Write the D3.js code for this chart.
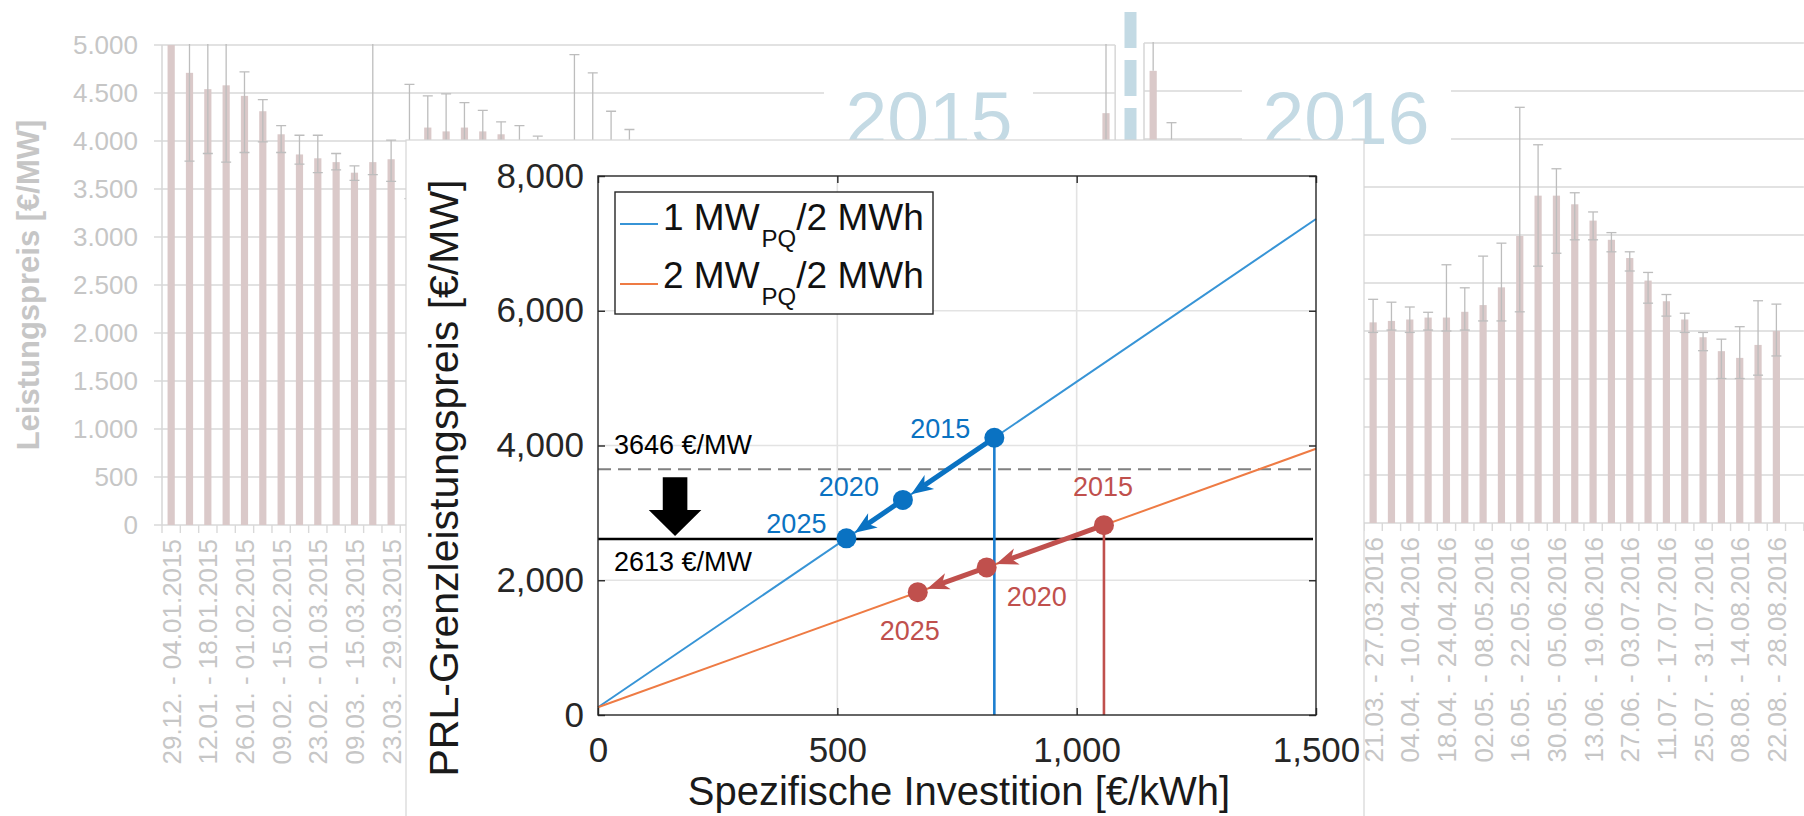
<!DOCTYPE html>
<html>
<head>
<meta charset="utf-8">
<script src="https://cdn.jsdelivr.net/npm/d3@7"></script>
<style>
  html, body { margin: 0; padding: 0; background: #fff; overflow: hidden; }
  svg { display: block; font-family: "Liberation Sans", Arial, Helvetica, sans-serif; }
</style>
</head>
<body>
<svg id="chart" width="1804" height="816"></svg>
<script>
// ---------- weekly PRL capacity prices (background charts) ----------
const weeks2015 = ["29.12. - 04.01.2015","05.01. - 11.01.2015","12.01. - 18.01.2015","19.01. - 25.01.2015","26.01. - 01.02.2015","02.02. - 08.02.2015","09.02. - 15.02.2015","16.02. - 22.02.2015","23.02. - 01.03.2015","02.03. - 08.03.2015","09.03. - 15.03.2015","16.03. - 22.03.2015","23.03. - 29.03.2015","30.03. - 05.04.2015","06.04. - 12.04.2015","13.04. - 19.04.2015","20.04. - 26.04.2015","27.04. - 03.05.2015","04.05. - 10.05.2015","11.05. - 17.05.2015","18.05. - 24.05.2015","25.05. - 31.05.2015","01.06. - 07.06.2015","08.06. - 14.06.2015","15.06. - 21.06.2015","22.06. - 28.06.2015","29.06. - 05.07.2015","06.07. - 12.07.2015","13.07. - 19.07.2015","20.07. - 26.07.2015","27.07. - 02.08.2015","03.08. - 09.08.2015","10.08. - 16.08.2015","17.08. - 23.08.2015","24.08. - 30.08.2015","31.08. - 06.09.2015","07.09. - 13.09.2015","14.09. - 20.09.2015","21.09. - 27.09.2015","28.09. - 04.10.2015","05.10. - 11.10.2015","12.10. - 18.10.2015","19.10. - 25.10.2015","26.10. - 01.11.2015","02.11. - 08.11.2015","09.11. - 15.11.2015","16.11. - 22.11.2015","23.11. - 29.11.2015","30.11. - 06.12.2015","07.12. - 13.12.2015","14.12. - 20.12.2015","21.12. - 27.12.2015"];
const price2015 = [5000,4710,4540,4580,4470,4310,4070,3860,3820,3780,3670,3780,3810,3700,4140,4100,4140,4100,4070,3950,3900,3750,3800,3850,3800,3700,3650,3600,3550,3500,3450,3500,3550,3500,3450,3400,3350,3300,3250,3300,3350,3400,3450,3500,3550,3600,3650,3700,3750,3800,3850,4290];
const low2015 = [null,3790,3870,3780,3880,3990,3880,3760,3670,3700,3590,3650,3580,3400,3800,3750,3850,3800,3800,3700,3700,3600,3200,3300,3500,3450,3450,3400,3350,3300,3250,3300,3350,3300,3250,3200,3150,3100,3050,3100,3150,3200,3250,3300,3350,3400,3450,3500,3550,3600,3650,3900];
const high2015 = [null,5400,5300,5300,4720,4430,4160,4060,4060,3870,3740,5400,4010,4590,4470,4490,4400,4320,4200,4160,4050,3950,4900,4710,4310,4120,3900,3850,3800,3750,3700,3750,3800,3750,3700,3650,3600,3550,3500,3550,3600,3650,3700,3750,3800,3850,3900,3950,3950,3950,3950,5400];

const weeks2016 = ["28.12. - 03.01.2016","04.01. - 10.01.2016","11.01. - 17.01.2016","18.01. - 24.01.2016","25.01. - 31.01.2016","01.02. - 07.02.2016","08.02. - 14.02.2016","15.02. - 21.02.2016","22.02. - 28.02.2016","29.02. - 06.03.2016","07.03. - 13.03.2016","14.03. - 20.03.2016","21.03. - 27.03.2016","28.03. - 03.04.2016","04.04. - 10.04.2016","11.04. - 17.04.2016","18.04. - 24.04.2016","25.04. - 01.05.2016","02.05. - 08.05.2016","09.05. - 15.05.2016","16.05. - 22.05.2016","23.05. - 29.05.2016","30.05. - 05.06.2016","06.06. - 12.06.2016","13.06. - 19.06.2016","20.06. - 26.06.2016","27.06. - 03.07.2016","04.07. - 10.07.2016","11.07. - 17.07.2016","18.07. - 24.07.2016","25.07. - 31.07.2016","01.08. - 07.08.2016","08.08. - 14.08.2016","15.08. - 21.08.2016","22.08. - 28.08.2016","29.08. - 04.09.2016"];
const price2016 = [4710,3700,3400,3100,2900,2700,2550,2400,2300,2250,2200,2150,2090,2105,2120,2140,2140,2200,2270,2455,2990,3410,3410,3320,3150,2950,2760,2525,2310,2120,1935,1790,1720,1855,2000];
const low2016 = [null,3300,3100,2850,2650,2450,2300,2150,2050,2000,1950,1900,1985,2010,1985,2010,2000,2010,2105,2105,2200,2675,2810,2950,2950,2825,2625,2290,2155,1985,1795,1505,1505,1540,1740];
const high2016 = [5400,4170,3700,3400,3200,3000,2850,2700,2600,2550,2500,2450,2330,2300,2250,2195,2690,2450,2780,2915,4330,3940,3690,3440,3240,3025,2825,2610,2380,2185,1985,1915,2045,2315,2280];

const priceTicks = [0,500,1000,1500,2000,2500,3000,3500,4000,4500,5000];
const yearLabels = ["2015", "2016"];

// ---------- break-even capacity price vs. specific investment ----------
const seriesNames = ["1 MW", "2 MW"];
const investTicks = [0, 500, 1000, 1500];
const limitTicks = [0, 2000, 4000, 6000, 8000];
const line1MW = [[0, 115], [1500, 7362]];
const line2MW = [[0, 115], [1500, 3951]];
const years = ["2015", "2020", "2025"];
const invest1MW = [828, 637, 519];
const limit1MW = [4115, 3192, 2622];
const invest2MW = [1057, 812, 668];
const limit2MW = [2818, 2191, 1823];
const priceMean = 3646;
const priceTarget = 2613;

// ---------- drawing ----------
const svg = d3.select("#chart");
const dotFmt = d3.formatLocale({decimal: ",", thousands: ".", grouping: [3], currency: ["", "€"]}).format(",");
const commaFmt = d3.format(",");

const bgGrid = "#d9d9d9", bgText = "#c6c6c6", barFill = "#dac9c9", errCol = "#bdbdbd";

function weeklyChart(id, labels, mean, low, high, left, yZero, yTop, rightEnd, gridLeft, showAxisLabels) {
  const step = 18.33;
  const n = labels.length;
  const x = d3.scaleBand().domain(d3.range(n)).range([left, left + step * n]);
  const y = d3.scaleLinear().domain([0, 5000]).range([yZero, yTop]);
  const right = Math.min(rightEnd, left + step * n);
  const g = svg.append("g");

  g.append("clipPath").attr("id", id).append("rect")
    .attr("x", left).attr("y", yTop - 1).attr("width", right - left).attr("height", yZero - yTop + 2);

  // gridlines
  g.selectAll("line.grid").data(priceTicks).join("line")
    .attr("x1", gridLeft).attr("x2", right)
    .attr("y1", d => y(d)).attr("y2", d => y(d))
    .attr("stroke", bgGrid).attr("stroke-width", 1.6);

  // vertical frame lines
  g.append("line").attr("x1", left).attr("x2", left).attr("y1", yTop).attr("y2", yZero)
    .attr("stroke", bgGrid).attr("stroke-width", 1.6);
  if (rightEnd >= left + step * n - 1 && rightEnd < 1800) {
    g.append("line").attr("x1", right).attr("x2", right).attr("y1", yTop).attr("y2", yZero)
      .attr("stroke", bgGrid).attr("stroke-width", 1.6);
  }

  // category ticks below the axis
  g.selectAll("line.tick").data(d3.range(n + 1)).join("line")
    .attr("x1", i => left + step * i).attr("x2", i => left + step * i)
    .attr("y1", yZero).attr("y2", yZero + 8)
    .attr("stroke", bgGrid).attr("stroke-width", 1.4);

  const plot = g.append("g").attr("clip-path", `url(#${id})`);
  const cx = i => x(i) + x.bandwidth() / 2;

  plot.selectAll("rect.bar").data(mean.map((v, i) => ({v, i}))).join("rect")
    .attr("x", d => cx(d.i) - 3.6).attr("width", 7.2)
    .attr("y", d => y(d.v)).attr("height", d => yZero - y(d.v))
    .attr("fill", barFill);

  // min/max whiskers
  mean.forEach((v, i) => {
    const hi = high[i], lo = low[i];
    const top = hi != null ? hi : v;
    const bot = lo != null ? lo : v;
    if (top === bot) return;
    plot.append("line").attr("x1", cx(i)).attr("x2", cx(i))
      .attr("y1", y(top)).attr("y2", y(bot))
      .attr("stroke", errCol).attr("stroke-width", 1.3);
    [hi, lo].forEach(e => {
      if (e == null) return;
      plot.append("line").attr("x1", cx(i) - 5).attr("x2", cx(i) + 5)
        .attr("y1", y(e)).attr("y2", y(e))
        .attr("stroke", errCol).attr("stroke-width", 1.3);
    });
  });

  // rotated week labels, every second week
  g.selectAll("text.week").data(labels.map((t, i) => ({t, i})).filter(d => d.i % 2 === 0)).join("text")
    .attr("transform", d => `translate(${cx(d.i) + 9.5},${yZero + 14}) rotate(-90)`)
    .attr("text-anchor", "end")
    .attr("font-size", 26).attr("fill", bgText)
    .text(d => d.t);

  if (showAxisLabels) {
    g.selectAll("text.ylab").data(priceTicks).join("text")
      .attr("x", left - 24).attr("y", d => y(d)).attr("dy", "0.36em")
      .attr("text-anchor", "end").attr("font-size", 26).attr("fill", bgText)
      .text(d => dotFmt(d));
    g.append("text")
      .attr("transform", `translate(39,${(yZero + yTop) / 2}) rotate(-90)`)
      .attr("text-anchor", "middle").attr("font-size", 31).attr("font-weight", "bold")
      .attr("fill", bgText).text("Leistungspreis [€/MW]");
  }
  return {x, y};
}

weeklyChart("clip2015", weeks2015, price2015, low2015, high2015, 162, 525, 45, 1116, 154, true);
weeklyChart("clip2016", weeks2016, price2016, low2016, high2016, 1144, 523, 43, 1804, 1144, false);

// year separator
svg.append("line").attr("x1", 1130.5).attr("x2", 1130.5).attr("y1", 12).attr("y2", 525)
  .attr("stroke", "#c3dae4").attr("stroke-width", 12).attr("stroke-dasharray", "36,12");

// year captions with white backing
const yearBoxes = [{x: 824, w: 209, cx: 929}, {x: 1242, w: 209, cx: 1346}];
yearLabels.forEach((t, i) => {
  const b = yearBoxes[i];
  svg.append("rect").attr("x", b.x).attr("y", 55).attr("width", b.w).attr("height", 92).attr("fill", "#fff");
  svg.append("text").attr("x", b.cx).attr("y", 144).attr("text-anchor", "middle")
    .attr("font-size", 75).attr("fill", "#c4dae4").text(t);
});

// ---------- foreground panel ----------
svg.append("rect").attr("x", 406).attr("y", 140).attr("width", 958).attr("height", 690)
  .attr("fill", "#fff").attr("stroke", "#d6d6d6").attr("stroke-width", 1.2);

const x = d3.scaleLinear().domain([0, 1500]).range([598, 1316]);
const y = d3.scaleLinear().domain([0, 8000]).range([715, 176]);
const fg = svg.append("g");
const axisCol = "#262626";

// grid
fg.selectAll("line.gx").data(investTicks.slice(1, -1)).join("line")
  .attr("x1", d => x(d)).attr("x2", d => x(d)).attr("y1", y(0)).attr("y2", y(8000))
  .attr("stroke", "#e3e3e3").attr("stroke-width", 1.6);
fg.selectAll("line.gy").data(limitTicks.slice(1, -1)).join("line")
  .attr("x1", x(0)).attr("x2", x(1500)).attr("y1", d => y(d)).attr("y2", d => y(d))
  .attr("stroke", "#e3e3e3").attr("stroke-width", 1.6);

// reference prices
fg.append("line").attr("x1", x(0)).attr("x2", x(1500)).attr("y1", y(priceMean)).attr("y2", y(priceMean))
  .attr("stroke", "#808080").attr("stroke-width", 2).attr("stroke-dasharray", "13,7");
fg.append("line").attr("x1", x(0)).attr("x2", x(1500) - 3).attr("y1", y(priceTarget)).attr("y2", y(priceTarget))
  .attr("stroke", "#000").attr("stroke-width", 2.6);

// break-even lines
const lineGen = d3.line().x(d => x(d[0])).y(d => y(d[1]));
fg.append("path").attr("d", lineGen(line1MW)).attr("fill", "none").attr("stroke", "#3794d6").attr("stroke-width", 2);
fg.append("path").attr("d", lineGen(line2MW)).attr("fill", "none").attr("stroke", "#ee7b44").attr("stroke-width", 2);

const blue = "#0a72c2", red = "#c0504d";
const pts1 = years.map((yr, i) => ({yr, px: x(invest1MW[i]), py: y(limit1MW[i])}));
const pts2 = years.map((yr, i) => ({yr, px: x(invest2MW[i]), py: y(limit2MW[i])}));

// drop lines from the 2015 points
fg.append("line").attr("x1", pts1[0].px).attr("x2", pts1[0].px).attr("y1", pts1[0].py).attr("y2", y(0))
  .attr("stroke", "#1d7fd0").attr("stroke-width", 2.6);
fg.append("line").attr("x1", pts2[0].px).attr("x2", pts2[0].px).attr("y1", pts2[0].py).attr("y2", y(0))
  .attr("stroke", red).attr("stroke-width", 2.6);

// cost-reduction arrows between the years
function arrow(a, b, col) {
  const dx = b.px - a.px, dy = b.py - a.py, len = Math.hypot(dx, dy);
  const ux = dx / len, uy = dy / len, nx = -uy, ny = ux;
  const r = 10, L = 22, W = 8.5;
  const tx = b.px - ux * r, ty = b.py - uy * r;
  const bx = tx - ux * L, by = ty - uy * L;
  const mx = tx - ux * L * 0.72, my = ty - uy * L * 0.72;
  fg.append("line").attr("x1", a.px).attr("y1", a.py).attr("x2", mx).attr("y2", my)
    .attr("stroke", col).attr("stroke-width", 5);
  fg.append("path").attr("d", `M${tx},${ty}L${bx + nx * W},${by + ny * W}L${mx},${my}L${bx - nx * W},${by - ny * W}Z`)
    .attr("fill", col);
}
arrow(pts1[0], pts1[1], blue); arrow(pts1[1], pts1[2], blue);
arrow(pts2[0], pts2[1], red);  arrow(pts2[1], pts2[2], red);

fg.selectAll("circle.p1").data(pts1).join("circle").attr("cx", d => d.px).attr("cy", d => d.py).attr("r", 10).attr("fill", blue);
fg.selectAll("circle.p2").data(pts2).join("circle").attr("cx", d => d.px).attr("cy", d => d.py).attr("r", 10).attr("fill", red);

// year labels next to the points
const off1 = [{dx: -24, dy: 0, a: "end"}, {dx: -24, dy: -4, a: "end"}, {dx: -20, dy: -5, a: "end"}];
const off2 = [{dx: -1, dy: -29, a: "middle"}, {dx: 20, dy: 39, a: "start"}, {dx: -8, dy: 48, a: "middle"}];
[[pts1, off1, blue], [pts2, off2, red]].forEach(([pts, off, col]) => {
  pts.forEach((p, i) => {
    fg.append("text").attr("x", p.px + off[i].dx).attr("y", p.py + off[i].dy)
      .attr("text-anchor", off[i].a).attr("font-size", 27).attr("fill", col).text(p.yr);
  });
});

// reference price labels and down arrow
fg.append("text").attr("x", 614).attr("y", y(priceMean) - 15).attr("font-size", 27).attr("fill", "#000")
  .text(`${priceMean} €/MW`);
fg.append("text").attr("x", 614).attr("y", y(priceTarget) + 32).attr("font-size", 27).attr("fill", "#000")
  .text(`${priceTarget} €/MW`);
const ax = x(161), aTop = y(priceMean) + 8, aTip = y(priceTarget) - 3, aHead = aTip - 26;
fg.append("path")
  .attr("d", `M${ax - 12.3},${aTop}H${ax + 12.3}V${aHead}H${ax + 26.3}L${ax},${aTip}L${ax - 26.3},${aHead}H${ax - 12.3}Z`)
  .attr("fill", "#000");

// frame and axes
fg.append("rect").attr("x", x(0)).attr("y", y(8000)).attr("width", x(1500) - x(0)).attr("height", y(0) - y(8000))
  .attr("fill", "none").attr("stroke", axisCol).attr("stroke-width", 1.4);

function styleAxis(sel) {
  sel.select(".domain").remove();
  sel.selectAll(".tick line").attr("stroke", axisCol).attr("stroke-width", 1.4);
  sel.selectAll(".tick text").attr("font-size", 35).attr("fill", axisCol)
    .attr("font-family", "'Liberation Sans', Arial, sans-serif");
}
fg.append("g").attr("transform", `translate(0,${y(0)})`)
  .call(d3.axisBottom(x).tickValues(investTicks).tickFormat(commaFmt).tickSize(-7).tickPadding(22)).call(styleAxis);
fg.append("g").attr("transform", `translate(0,${y(8000)})`)
  .call(d3.axisTop(x).tickValues(investTicks).tickFormat("").tickSize(-7)).call(styleAxis);
fg.append("g").attr("transform", `translate(${x(0)},0)`)
  .call(d3.axisLeft(y).tickValues(limitTicks).tickFormat(commaFmt).tickSize(-7).tickPadding(14)).call(styleAxis);
fg.append("g").attr("transform", `translate(${x(1500)},0)`)
  .call(d3.axisRight(y).tickValues(limitTicks).tickFormat("").tickSize(-7)).call(styleAxis);

fg.append("text").attr("x", (x(0) + x(1500)) / 2 + 2).attr("y", 805).attr("text-anchor", "middle")
  .attr("font-size", 40).attr("fill", "#1a1a1a").text("Spezifische Investition [€/kWh]");
fg.append("text").attr("transform", `translate(458,478) rotate(-90)`).attr("text-anchor", "middle")
  .attr("font-size", 41).attr("fill", "#1a1a1a").text("PRL-Grenzleistungspreis [€/MW]");

// legend
const lg = fg.append("g");
lg.append("rect").attr("x", 615).attr("y", 192).attr("width", 318).attr("height", 122)
  .attr("fill", "#fff").attr("stroke", axisCol).attr("stroke-width", 1.4);
[["#3794d6", 224, 230, seriesNames[0]], ["#ee7b44", 284, 288, seriesNames[1]]].forEach(([c, ly, ty, name]) => {
  lg.append("line").attr("x1", 620).attr("x2", 658).attr("y1", ly).attr("y2", ly).attr("stroke", c).attr("stroke-width", 2);
  const t = lg.append("text").attr("x", 663).attr("y", ty).attr("font-size", 37).attr("fill", "#111");
  t.append("tspan").text(name);
  t.append("tspan").attr("font-size", 24).attr("dy", 17).attr("dx", 2).text("PQ");
  t.append("tspan").attr("dy", -17).text("/2 MWh");
});
</script>
</body>
</html>
